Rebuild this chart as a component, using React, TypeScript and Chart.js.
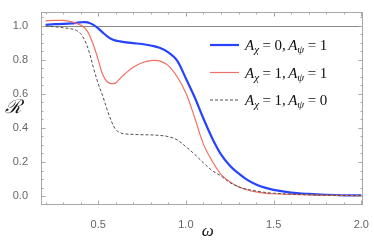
import React, { useEffect, useRef } from "react";
import { Chart, registerables } from "chart.js";

Chart.register(...registerables);

const omega = [0.2, 0.25, 0.3, 0.35, 0.375, 0.4, 0.425, 0.45, 0.475, 0.5, 0.525, 0.55, 0.575, 0.6, 0.625, 0.65, 0.7, 0.75, 0.8, 0.85, 0.9, 0.95, 1.0, 1.05, 1.1, 1.15, 1.2, 1.25, 1.3, 1.35, 1.4, 1.45, 1.5, 1.6, 1.7, 1.8, 1.9, 2.0];
const seriesBlue = [1.005, 1.008, 1.01, 1.013, 1.016, 1.019, 1.02, 1.015, 1.003, 0.984, 0.96, 0.938, 0.921, 0.912, 0.907, 0.903, 0.897, 0.892, 0.883, 0.87, 0.843, 0.795, 0.69, 0.58, 0.455, 0.34, 0.245, 0.18, 0.133, 0.095, 0.068, 0.05, 0.037, 0.021, 0.013, 0.008, 0.005, 0.004];
const seriesRed = [1.028, 1.03, 1.03, 1.022, 1.014, 1.003, 0.985, 0.945, 0.88, 0.8, 0.715, 0.672, 0.66, 0.664, 0.69, 0.715, 0.755, 0.782, 0.795, 0.793, 0.765, 0.7, 0.605, 0.46, 0.305, 0.205, 0.128, 0.085, 0.055, 0.036, 0.025, 0.018, 0.014, 0.01, 0.007, 0.005, 0.004, 0.003];
const seriesBlack = [0.998, 0.993, 0.988, 0.98, 0.972, 0.953, 0.91, 0.84, 0.745, 0.66, 0.59, 0.51, 0.44, 0.39, 0.372, 0.365, 0.362, 0.36, 0.359, 0.356, 0.349, 0.33, 0.29, 0.245, 0.195, 0.15, 0.118, 0.08, 0.055, 0.04, 0.03, 0.022, 0.017, 0.012, 0.008, 0.005, 0.004, 0.003];

const xTickValues = [0.5, 1.0, 1.5, 2.0];
const yTickValues = [0.0, 0.2, 0.4, 0.6, 0.8, 1.0];
const legendChi = ["0", "1", "1"];
const legendPsi = ["1", "1", "0"];
const referenceLevel = 1.0;

const BLUE = "rgb(38,68,255)";
const RED = "rgb(240,112,100)";
const BLACK = "rgb(80,80,80)";
const FRAME = "#a8a8a8";

const pts = (ys: number[]) => omega.map((x, i) => ({ x, y: ys[i] }));

const drawMath = (ctx: CanvasRenderingContext2D, x: number, y: number, chi: string, psi: string) => {
  let cx = x;
  const part = (t: string, italic: boolean, size: number, dy: number) => {
    ctx.font = `${italic ? "italic " : ""}${size}px "Liberation Serif"`;
    ctx.fillText(t, cx, y + dy);
    cx += ctx.measureText(t).width;
  };
  part("A", true, 15, 0);
  part("χ", true, 11, 3);
  cx += 3.5;
  part("=", false, 15, 0);
  cx += 3.5;
  part(chi + ",", false, 15, 0);
  cx += 2.5;
  part("A", true, 15, 0);
  part("ψ", true, 11, 3);
  cx += 3.5;
  part("=", false, 15, 0);
  cx += 3.5;
  part(psi, false, 15, 0);
};

const framePlugin = {
  id: "framePlugin",
  beforeDatasetsDraw(chart: any) {
    const { ctx, chartArea: a, scales } = chart;
    const y1 = Math.round(scales.y.getPixelForValue(referenceLevel)) + 0.5;
    ctx.save();
    ctx.strokeStyle = "#8a8a8a";
    ctx.lineWidth = 1;
    ctx.beginPath();
    ctx.moveTo(a.left, y1);
    ctx.lineTo(a.right, y1);
    ctx.stroke();
    ctx.restore();
  },
  afterDraw(chart: any) {
    const { ctx, chartArea: a, scales } = chart;
    ctx.save();
    ctx.strokeStyle = FRAME;
    ctx.lineWidth = 1;
    const L = Math.round(a.left) + 0.5;
    const R = Math.round(a.right) - 0.5;
    const T = Math.round(a.top) + 0.5;
    const B = Math.round(a.bottom) - 0.5;
    ctx.strokeRect(L, T, R - L, B - T);
    ctx.beginPath();
    for (let i = 2; i <= 20; i++) {
      const v = i / 10;
      const px = Math.round(scales.x.getPixelForValue(v)) + 0.5;
      const len = i % 5 === 0 ? 4 : 2;
      ctx.moveTo(px, B);
      ctx.lineTo(px, B - len);
      ctx.moveTo(px, T);
      ctx.lineTo(px, T + len);
    }
    for (let i = 0; i <= 21; i++) {
      const v = i / 20;
      const py = Math.round(scales.y.getPixelForValue(v)) + 0.5;
      const len = i % 4 === 0 ? 4 : 2;
      ctx.moveTo(L, py);
      ctx.lineTo(L + len, py);
      ctx.moveTo(R, py);
      ctx.lineTo(R - len, py);
    }
    ctx.stroke();

    // axis titles
    ctx.fillStyle = "#111";
    ctx.textAlign = "center";
    ctx.textBaseline = "middle";
    ctx.font = 'italic 17px "Liberation Serif"';
    ctx.fillText("ω", (a.left + a.right) / 2 + 6, 232);
    ctx.font = 'italic 19px "DejaVu Serif"';
    ctx.fillText("ℛ", 13, 108);

    // legend
    const rows = [45, 72.5, 100];
    const colors = [BLUE, RED, BLACK];
    const widths = [2.2, 1.2, 1];
    ctx.textAlign = "left";
    ctx.textBaseline = "alphabetic";
    rows.forEach((ry, i) => {
      ctx.beginPath();
      ctx.strokeStyle = colors[i];
      ctx.lineWidth = widths[i];
      ctx.setLineDash(i === 2 ? [3, 2] : []);
      ctx.moveTo(210, ry);
      ctx.lineTo(239, ry);
      ctx.stroke();
      ctx.setLineDash([]);
      ctx.fillStyle = "#111";
      drawMath(ctx, 245, ry + 5, legendChi[i], legendPsi[i]);
    });
    ctx.restore();
  },
};

export default function App() {
  const ref = useRef<HTMLCanvasElement>(null);
  useEffect(() => {
    const chart = new Chart(ref.current as HTMLCanvasElement, {
      type: "line",
      data: {
        datasets: [
          { data: pts(seriesBlue), borderColor: BLUE, borderWidth: 2.2, pointRadius: 0, order: 3, tension: 0.35 },
          { data: pts(seriesRed), borderColor: RED, borderWidth: 1.2, pointRadius: 0, order: 2, tension: 0.35 },
          { data: pts(seriesBlack), borderColor: BLACK, borderWidth: 1, borderDash: [3, 2], pointRadius: 0, order: 1, tension: 0.35 },
        ],
      },
      options: {
        animation: false,
        responsive: true,
        maintainAspectRatio: false,
        layout: { padding: { left: 0, right: 10, top: 3, bottom: 0 } },
        plugins: { legend: { display: false }, tooltip: { enabled: false } },
        scales: {
          x: {
            type: "linear",
            min: 0.174,
            max: 2.007,
            grid: { display: false },
            border: { display: false },
            afterBuildTicks: (s: any) => { s.ticks = xTickValues.map((v) => ({ value: v })); },
            afterFit: (s: any) => { s.height = 35; },
            ticks: { padding: 5, color: "#666", font: { family: "Liberation Sans", size: 11 }, callback: (v: any) => Number(v).toFixed(1), maxRotation: 0 },
          },
          y: {
            type: "linear",
            min: -0.052,
            max: 1.082,
            grid: { display: false },
            border: { display: false },
            afterBuildTicks: (s: any) => { s.ticks = yTickValues.map((v) => ({ value: v })); },
            afterFit: (s: any) => { s.width = 41; },
            ticks: { padding: 5, color: "#666", font: { family: "Liberation Sans", size: 11 }, callback: (v: any) => Number(v).toFixed(1) },
          },
        },
      },
      plugins: [framePlugin],
    } as any);
    return () => chart.destroy();
  }, []);
  return (
    <div style={{ position: "absolute", left: 0, top: 0, width: 374, height: 240 }}>
      <canvas ref={ref} />
    </div>
  );
}
